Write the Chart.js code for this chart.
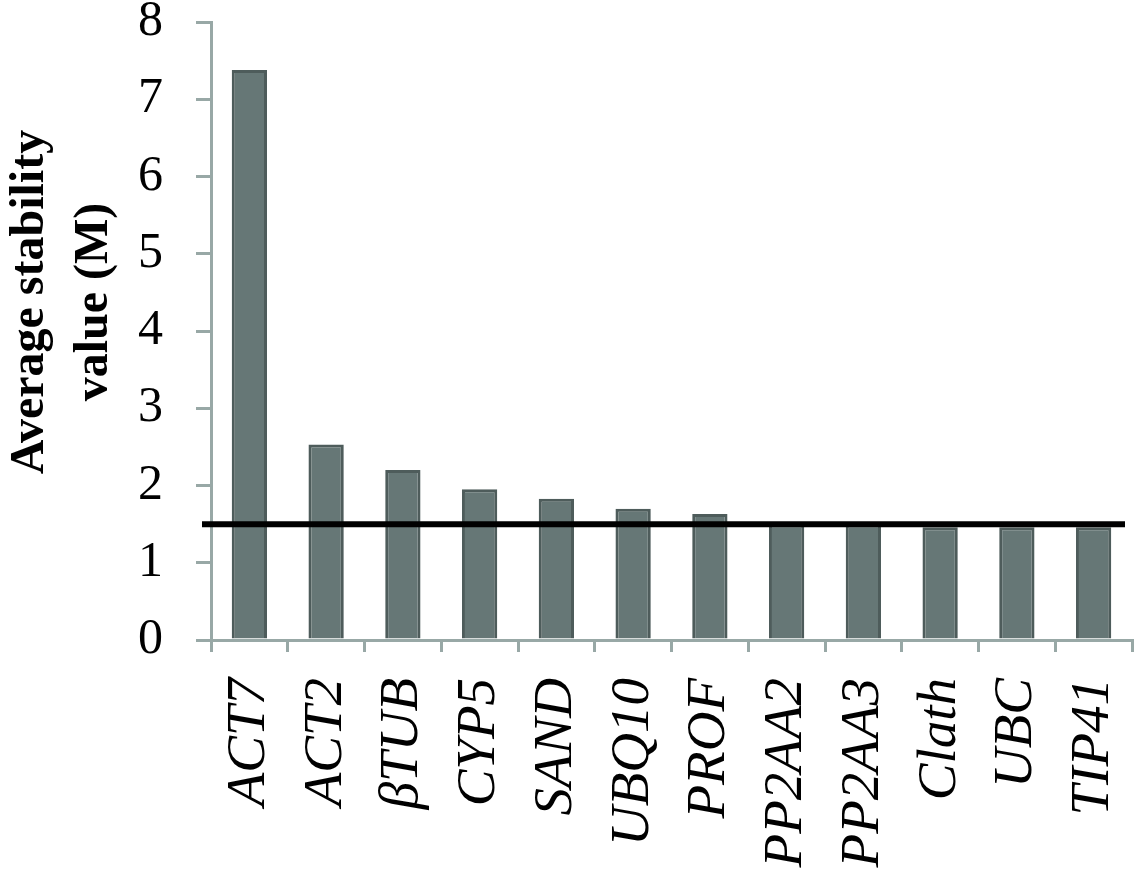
<!DOCTYPE html>
<html lang="en">
<head>
    <meta charset="UTF-8">
    <title>Average stability value</title>
    <script src="https://cdn.jsdelivr.net/npm/chart.js"></script>
    <style>
        body { margin: 0; background: #fff; }
        .chart-box { width: 1146px; height: 886px; }
    </style>
</head>
<body>
    <div class="chart-box">
        <canvas id="stabilityChart"></canvas>
    </div>
    <script>
        const genes = ['ACT7', 'ACT2', 'βTUB', 'CYP5', 'SAND', 'UBQ10', 'PROF', 'PP2AA2', 'PP2AA3', 'Clath', 'UBC', 'TIP41'];
        const stability = [7.38, 2.53, 2.2, 1.95, 1.83, 1.7, 1.63, 1.5, 1.5, 1.46, 1.46, 1.46];
        const cutoff = 1.5;
        const yTicks = [0, 1, 2, 3, 4, 5, 6, 7, 8];
        const yTitle = ['Average stability', 'value (M)'];

        const axisGrey = '#98a8a6';

        // black cut-off line across the plot
        const cutoffLine = {
            id: 'cutoffLine',
            afterDatasetsDraw(chart) {
                const { ctx, chartArea, scales } = chart;
                const y = scales.y.getPixelForValue(cutoff);
                ctx.save();
                ctx.strokeStyle = '#000';
                ctx.lineWidth = 6;
                ctx.beginPath();
                ctx.moveTo(chartArea.left - 9, y);
                ctx.lineTo(chartArea.right - 7, y);
                ctx.stroke();
                ctx.restore();
            }
        };

        // y title sits a bit above the middle of the axis in the original
        const yTitleText = {
            id: 'yTitleText',
            afterDraw(chart) {
                const { ctx, chartArea } = chart;
                const mid = (chartArea.top + chartArea.bottom) / 2 - 29;
                ctx.save();
                ctx.translate(31, mid);
                ctx.rotate(-Math.PI / 2);
                ctx.fillStyle = '#000';
                ctx.font = 'bold 48px "Liberation Serif"';
                ctx.textAlign = 'center';
                ctx.textBaseline = 'middle';
                yTitle.forEach((line, i) => ctx.fillText(line, 0, i * 64));
                ctx.restore();
            }
        };

        new Chart(document.getElementById('stabilityChart'), {
            type: 'bar',
            data: {
                labels: genes,
                datasets: [{
                    data: stability,
                    backgroundColor: '#667776',
                    borderColor: '#4e5c5b',
                    borderWidth: 3,
                    categoryPercentage: 1,
                    barPercentage: 0.46
                }]
            },
            options: {
                responsive: true,
                maintainAspectRatio: false,
                animation: false,
                layout: { padding: 0 },
                plugins: {
                    legend: { display: false },
                    tooltip: { enabled: false }
                },
                scales: {
                    x: {
                        afterFit(axis) {
                            axis.height = 246;
                            axis.paddingLeft = 0;
                            axis.paddingRight = 14;
                        },
                        grid: { drawOnChartArea: false, color: axisGrey, lineWidth: 3, tickLength: 12 },
                        border: { color: axisGrey, width: 3 },
                        ticks: {
                            color: '#000',
                            minRotation: 90,
                            maxRotation: 90,
                            padding: 26,
                            font: { family: 'Liberation Serif', size: 55, style: 'italic' }
                        }
                    },
                    y: {
                        min: 0,
                        max: 8,
                        afterBuildTicks(axis) {
                            axis.ticks = yTicks.map(v => ({ value: v }));
                        },
                        afterFit(axis) {
                            axis.width = 211;
                            axis.paddingTop = 22;
                            axis.paddingBottom = 0;
                        },
                        grid: { drawOnChartArea: false, color: axisGrey, lineWidth: 3, tickLength: 15 },
                        border: { color: axisGrey, width: 3 },
                        ticks: {
                            color: '#000',
                            padding: 33,
                            font: { family: 'Liberation Serif', size: 50 }
                        }
                    }
                }
            },
            plugins: [cutoffLine, yTitleText]
        });
    </script>
</body>
</html>
